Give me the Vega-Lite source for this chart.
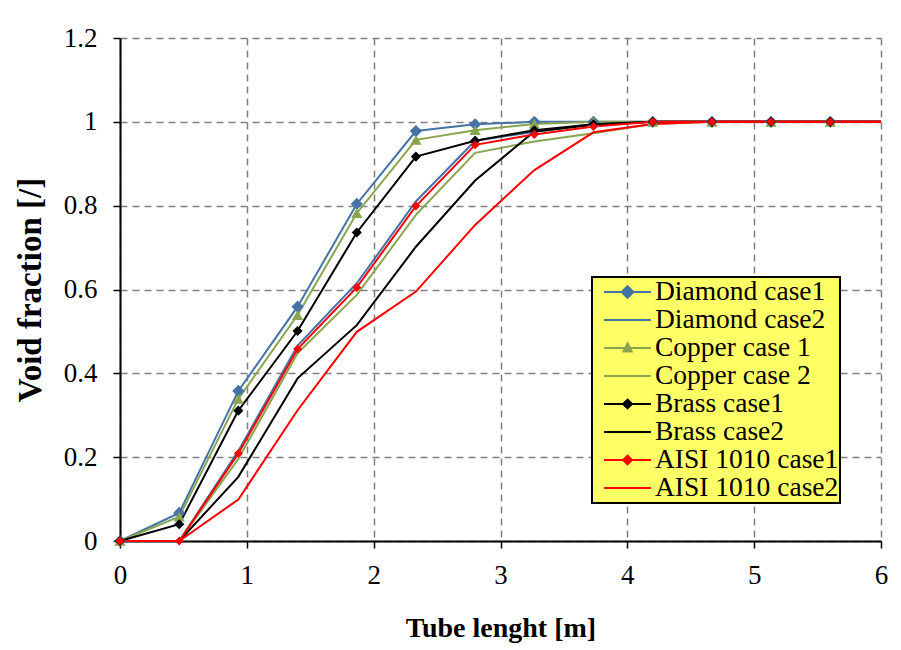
{
  "$schema": "https://vega.github.io/schema/vega-lite/v6.json",
  "autosize": {"type": "none"},
  "width": 761,
  "height": 503,
  "padding": {"left": 120, "top": 38, "right": 20, "bottom": 109},
  "background": "white",
  "config": {
    "view": {"stroke": null},
    "font": "Liberation Serif",
    "axis": {
      "labelFont": "Liberation Serif",
      "labelFontSize": 27,
      "labelColor": "black",
      "labelFlush": false,
      "labelOverlap": false,
      "titleFont": "Liberation Serif",
      "titleFontWeight": "bold",
      "titleColor": "black",
      "domainColor": "black",
      "domainWidth": 2,
      "tickColor": "black",
      "tickWidth": 1.5,
      "tickSize": 7,
      "grid": true,
      "gridColor": "#808080",
      "gridDash": [7, 5],
      "gridWidth": 1.5
    }
  },
  "data": {
    "values": [
      {"series": "Diamond case1", "x": 0, "y": 0},
      {"series": "Diamond case1", "x": 0.467, "y": 0.067},
      {"series": "Diamond case1", "x": 0.933, "y": 0.358},
      {"series": "Diamond case1", "x": 1.4, "y": 0.559},
      {"series": "Diamond case1", "x": 1.867, "y": 0.804},
      {"series": "Diamond case1", "x": 2.333, "y": 0.978},
      {"series": "Diamond case1", "x": 2.8, "y": 0.994},
      {"series": "Diamond case1", "x": 3.267, "y": 1.0},
      {"series": "Diamond case1", "x": 3.733, "y": 1.0},
      {"series": "Diamond case1", "x": 4.2, "y": 1.0},
      {"series": "Diamond case1", "x": 4.667, "y": 1.0},
      {"series": "Diamond case1", "x": 5.133, "y": 1.0},
      {"series": "Diamond case1", "x": 5.6, "y": 1.0},
      {"series": "Diamond case1", "x": 6.0, "y": 1.0},
      {"series": "Diamond case2", "x": 0, "y": 0},
      {"series": "Diamond case2", "x": 0.467, "y": 0},
      {"series": "Diamond case2", "x": 0.933, "y": 0.215},
      {"series": "Diamond case2", "x": 1.4, "y": 0.466},
      {"series": "Diamond case2", "x": 1.867, "y": 0.615},
      {"series": "Diamond case2", "x": 2.333, "y": 0.81},
      {"series": "Diamond case2", "x": 2.8, "y": 0.955},
      {"series": "Diamond case2", "x": 3.267, "y": 0.976},
      {"series": "Diamond case2", "x": 3.733, "y": 0.994},
      {"series": "Diamond case2", "x": 4.2, "y": 1.0},
      {"series": "Diamond case2", "x": 4.667, "y": 1.0},
      {"series": "Diamond case2", "x": 5.133, "y": 1.0},
      {"series": "Diamond case2", "x": 5.6, "y": 1.0},
      {"series": "Diamond case2", "x": 6.0, "y": 1.0},
      {"series": "Copper case 1", "x": 0, "y": 0},
      {"series": "Copper case 1", "x": 0.467, "y": 0.058},
      {"series": "Copper case 1", "x": 0.933, "y": 0.339},
      {"series": "Copper case 1", "x": 1.4, "y": 0.539},
      {"series": "Copper case 1", "x": 1.867, "y": 0.782},
      {"series": "Copper case 1", "x": 2.333, "y": 0.957},
      {"series": "Copper case 1", "x": 2.8, "y": 0.98},
      {"series": "Copper case 1", "x": 3.267, "y": 0.995},
      {"series": "Copper case 1", "x": 3.733, "y": 1.0},
      {"series": "Copper case 1", "x": 4.2, "y": 1.0},
      {"series": "Copper case 1", "x": 4.667, "y": 1.0},
      {"series": "Copper case 1", "x": 5.133, "y": 1.0},
      {"series": "Copper case 1", "x": 5.6, "y": 1.0},
      {"series": "Copper case 1", "x": 6.0, "y": 1.0},
      {"series": "Copper case 2", "x": 0, "y": 0},
      {"series": "Copper case 2", "x": 0.467, "y": 0},
      {"series": "Copper case 2", "x": 0.933, "y": 0.196},
      {"series": "Copper case 2", "x": 1.4, "y": 0.448},
      {"series": "Copper case 2", "x": 1.867, "y": 0.587},
      {"series": "Copper case 2", "x": 2.333, "y": 0.778},
      {"series": "Copper case 2", "x": 2.8, "y": 0.926},
      {"series": "Copper case 2", "x": 3.267, "y": 0.953},
      {"series": "Copper case 2", "x": 3.733, "y": 0.973},
      {"series": "Copper case 2", "x": 4.2, "y": 0.995},
      {"series": "Copper case 2", "x": 4.667, "y": 1.0},
      {"series": "Copper case 2", "x": 5.133, "y": 1.0},
      {"series": "Copper case 2", "x": 5.6, "y": 1.0},
      {"series": "Copper case 2", "x": 6.0, "y": 1.0},
      {"series": "Brass case1", "x": 0, "y": 0},
      {"series": "Brass case1", "x": 0.467, "y": 0.04},
      {"series": "Brass case1", "x": 0.933, "y": 0.311},
      {"series": "Brass case1", "x": 1.4, "y": 0.501},
      {"series": "Brass case1", "x": 1.867, "y": 0.736},
      {"series": "Brass case1", "x": 2.333, "y": 0.917},
      {"series": "Brass case1", "x": 2.8, "y": 0.955},
      {"series": "Brass case1", "x": 3.267, "y": 0.98},
      {"series": "Brass case1", "x": 3.733, "y": 0.994},
      {"series": "Brass case1", "x": 4.2, "y": 1.0},
      {"series": "Brass case1", "x": 4.667, "y": 1.0},
      {"series": "Brass case1", "x": 5.133, "y": 1.0},
      {"series": "Brass case1", "x": 5.6, "y": 1.0},
      {"series": "Brass case1", "x": 6.0, "y": 1.0},
      {"series": "Brass case2", "x": 0, "y": 0},
      {"series": "Brass case2", "x": 0.467, "y": 0},
      {"series": "Brass case2", "x": 0.933, "y": 0.153},
      {"series": "Brass case2", "x": 1.4, "y": 0.388},
      {"series": "Brass case2", "x": 1.867, "y": 0.515},
      {"series": "Brass case2", "x": 2.333, "y": 0.702},
      {"series": "Brass case2", "x": 2.8, "y": 0.86},
      {"series": "Brass case2", "x": 3.267, "y": 0.977},
      {"series": "Brass case2", "x": 3.733, "y": 0.993},
      {"series": "Brass case2", "x": 4.2, "y": 1.0},
      {"series": "Brass case2", "x": 4.667, "y": 1.0},
      {"series": "Brass case2", "x": 5.133, "y": 1.0},
      {"series": "Brass case2", "x": 5.6, "y": 1.0},
      {"series": "Brass case2", "x": 6.0, "y": 1.0},
      {"series": "AISI 1010 case1", "x": 0, "y": 0},
      {"series": "AISI 1010 case1", "x": 0.467, "y": 0},
      {"series": "AISI 1010 case1", "x": 0.933, "y": 0.209},
      {"series": "AISI 1010 case1", "x": 1.4, "y": 0.458},
      {"series": "AISI 1010 case1", "x": 1.867, "y": 0.605},
      {"series": "AISI 1010 case1", "x": 2.333, "y": 0.799},
      {"series": "AISI 1010 case1", "x": 2.8, "y": 0.945},
      {"series": "AISI 1010 case1", "x": 3.267, "y": 0.97},
      {"series": "AISI 1010 case1", "x": 3.733, "y": 0.989},
      {"series": "AISI 1010 case1", "x": 4.2, "y": 1.0},
      {"series": "AISI 1010 case1", "x": 4.667, "y": 1.0},
      {"series": "AISI 1010 case1", "x": 5.133, "y": 1.0},
      {"series": "AISI 1010 case1", "x": 5.6, "y": 1.0},
      {"series": "AISI 1010 case1", "x": 6.0, "y": 1.0},
      {"series": "AISI 1010 case2", "x": 0, "y": 0},
      {"series": "AISI 1010 case2", "x": 0.467, "y": 0},
      {"series": "AISI 1010 case2", "x": 0.933, "y": 0.099},
      {"series": "AISI 1010 case2", "x": 1.4, "y": 0.312},
      {"series": "AISI 1010 case2", "x": 1.867, "y": 0.499},
      {"series": "AISI 1010 case2", "x": 2.333, "y": 0.595},
      {"series": "AISI 1010 case2", "x": 2.8, "y": 0.754},
      {"series": "AISI 1010 case2", "x": 3.267, "y": 0.885},
      {"series": "AISI 1010 case2", "x": 3.733, "y": 0.975},
      {"series": "AISI 1010 case2", "x": 4.2, "y": 0.995},
      {"series": "AISI 1010 case2", "x": 4.667, "y": 1.0},
      {"series": "AISI 1010 case2", "x": 5.133, "y": 1.0},
      {"series": "AISI 1010 case2", "x": 5.6, "y": 1.0},
      {"series": "AISI 1010 case2", "x": 6.0, "y": 1.0}
    ]
  },
  "encoding": {
    "x": {
      "field": "x", "type": "quantitative",
      "scale": {"domain": [0, 6], "nice": false},
      "axis": {"title": "Tube lenght [m]", "titleFontSize": 28, "values": [0, 1, 2, 3, 4, 5, 6], "labelPadding": 14, "titlePadding": 26}
    },
    "y": {
      "field": "y", "type": "quantitative",
      "scale": {"domain": [0, 1.2], "nice": false},
      "axis": {"title": "Void fraction [/]", "titleFontSize": 33, "values": [0, 0.2, 0.4, 0.6, 0.8, 1, 1.2], "format": "~g", "labelPadding": 16, "titlePadding": 16}
    },
    "color": {
      "field": "series", "type": "nominal",
      "scale": {
        "domain": ["Diamond case1", "Diamond case2", "Copper case 1", "Copper case 2", "Brass case1", "Brass case2", "AISI 1010 case1", "AISI 1010 case2"],
        "range": ["#4572A7", "#4572A7", "#89A54E", "#89A54E", "#000000", "#000000", "#FF0000", "#FF0000"]
      }
    }
  },
  "layer": [
    {
      "mark": {"type": "line", "strokeWidth": 2},
      "encoding": {
        "color": {
          "field": "series", "type": "nominal",
          "legend": {
            "title": null,
            "orient": "none",
            "legendX": 472,
            "legendY": 239,
            "fillColor": "#FFFF66",
            "strokeColor": "black",
            "padding": 1,
            "labelFont": "Liberation Serif",
            "labelFontSize": 27.5,
            "labelColor": "black",
            "labelLimit": 400,
            "labelOffset": 34,
            "rowPadding": -1,
            "symbolSize": 676,
            "symbolStrokeWidth": 2,
            "symbolOpacity": 1,
            "encode": {
              "legend": {"update": {"strokeWidth": {"value": 2}}},
              "entries": {"update": {"width": {"value": 258}, "fill": {"value": "transparent"}}},
              "symbols": {
                "update": {
                  "shape": {"signal": "datum.value === 'Diamond case1' ? 'M-0.23,0H3.38M1.58,-0.45L2.03,0L1.58,0.45L1.13,0Z' : datum.value === 'Copper case 1' ? 'M-0.23,0H3.38M1.58,-0.36L1.9,0.26L1.26,0.26Z' : (datum.value === 'Brass case1' || datum.value === 'AISI 1010 case1') ? 'M-0.23,0H3.38M1.58,-0.34L1.92,0L1.58,0.34L1.24,0Z' : 'M-0.23,0H3.38'"},
                  "fill": {"scale": "color", "field": "value"},
                  "stroke": {"scale": "color", "field": "value"}
                }
              }
            }
          }
        }
      }
    },
    {
      "transform": [
        {"filter": {"field": "series", "oneOf": ["Diamond case1", "Copper case 1", "Brass case1", "AISI 1010 case1"]}},
        {"filter": {"field": "x", "lte": 5.7}}
      ],
      "mark": {"type": "point", "filled": true, "opacity": 1},
      "encoding": {
        "color": {"field": "series", "type": "nominal", "legend": null},
        "shape": {
          "field": "series", "type": "nominal", "legend": null,
          "scale": {"domain": ["Diamond case1", "Copper case 1", "Brass case1", "AISI 1010 case1"], "range": ["diamond", "triangle-up", "diamond", "diamond"]}
        },
        "size": {
          "field": "series", "type": "nominal", "legend": null,
          "scale": {"domain": ["Diamond case1", "Copper case 1", "Brass case1", "AISI 1010 case1"], "range": [150, 80, 100, 130]}
        }
      }
    }
  ]
}
